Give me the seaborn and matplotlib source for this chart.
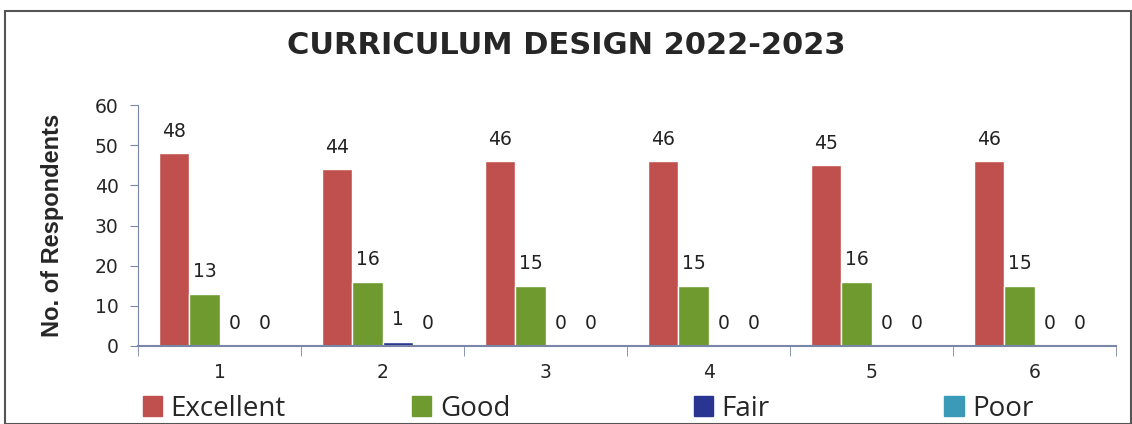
import pandas as pd
import matplotlib.pyplot as plt
import seaborn as sns
from matplotlib.patches import Rectangle
from matplotlib.ticker import FixedLocator

questions = ["1", "2", "3", "4", "5", "6"]
excellent = [48, 44, 46, 46, 45, 46]
good = [13, 16, 15, 15, 16, 15]
fair = [0, 1, 0, 0, 0, 0]
poor = [0, 0, 0, 0, 0, 0]
ratings = ["Excellent", "Good", "Fair", "Poor"]
colors = {"Excellent": "#C0504D", "Good": "#6E9A2F", "Fair": "#2A3591", "Poor": "#3A9AB8"}

rows = []
for r, vals in zip(ratings, [excellent, good, fair, poor]):
    for q, v in zip(questions, vals):
        rows.append({"Question": q, "Rating": r, "Count": v})
df = pd.DataFrame(rows)

sns.set_style("white")
plt.rcParams['font.family'] = ['DejaVu Sans']

fig = plt.figure(figsize=(11.32, 4.24), dpi=100)
ax = fig.add_axes([0.122, 0.184, 0.864, 0.568])

sns.barplot(data=df, x="Question", y="Count", hue="Rating", palette=colors,
            width=0.74, gap=0, saturation=1, errorbar=None, ax=ax, legend=True)

for c in ax.containers:
    ax.bar_label(c, padding=9, fontsize=13.5, color="#222222", family="DejaVu Sans")

ax.set_ylim(0, 60)
ax.set_yticks(range(0, 61, 10))
ax.set_xlim(-0.5, 5.5)
ax.set_xlabel("")
ax.set_ylabel("No. of Respondents", fontsize=17, fontweight="bold",
              family=["Liberation Sans Narrow", "Liberation Sans"], labelpad=22)
ax.tick_params(axis="y", labelsize=13.5, length=6, color="#7a86a8", pad=8, left=True)
ax.tick_params(axis="x", which="major", length=0, labelsize=13.5, pad=12)
ax.xaxis.set_minor_locator(FixedLocator([i + 0.5 for i in range(-1, 6)]))
ax.tick_params(axis="x", which="minor", length=7, color="#7a86a8", bottom=True)
for s in ["top", "right"]:
    ax.spines[s].set_visible(False)
ax.spines["left"].set_color("#7a86a8")
ax.spines["bottom"].set_color("#7a86a8")
ax.spines["bottom"].set_linewidth(1.5)

ax.get_legend().remove()
legend_x = [0.126, 0.364, 0.613, 0.834]
for r, lx in zip(ratings, legend_x):
    fig.legend([Rectangle((0, 0), 1, 1, color=colors[r])], [r], loc="center left",
               bbox_to_anchor=(lx, 0.036), frameon=False,
               prop={"family": "Open Sans", "size": 20},
               handlelength=0.7, handleheight=0.7, handletextpad=0.3,
               borderpad=0, borderaxespad=0)

fig.text(0.5, 0.893, "CURRICULUM DESIGN 2022-2023", ha="center", va="center",
         fontsize=22, fontweight="bold", family="DejaVu Sans")

fig.patches.append(Rectangle((0.004, 0.0), 0.995, 0.975, transform=fig.transFigure,
                             fill=False, edgecolor="#555555", linewidth=1.5))

fig.savefig("out.png", dpi=100)
